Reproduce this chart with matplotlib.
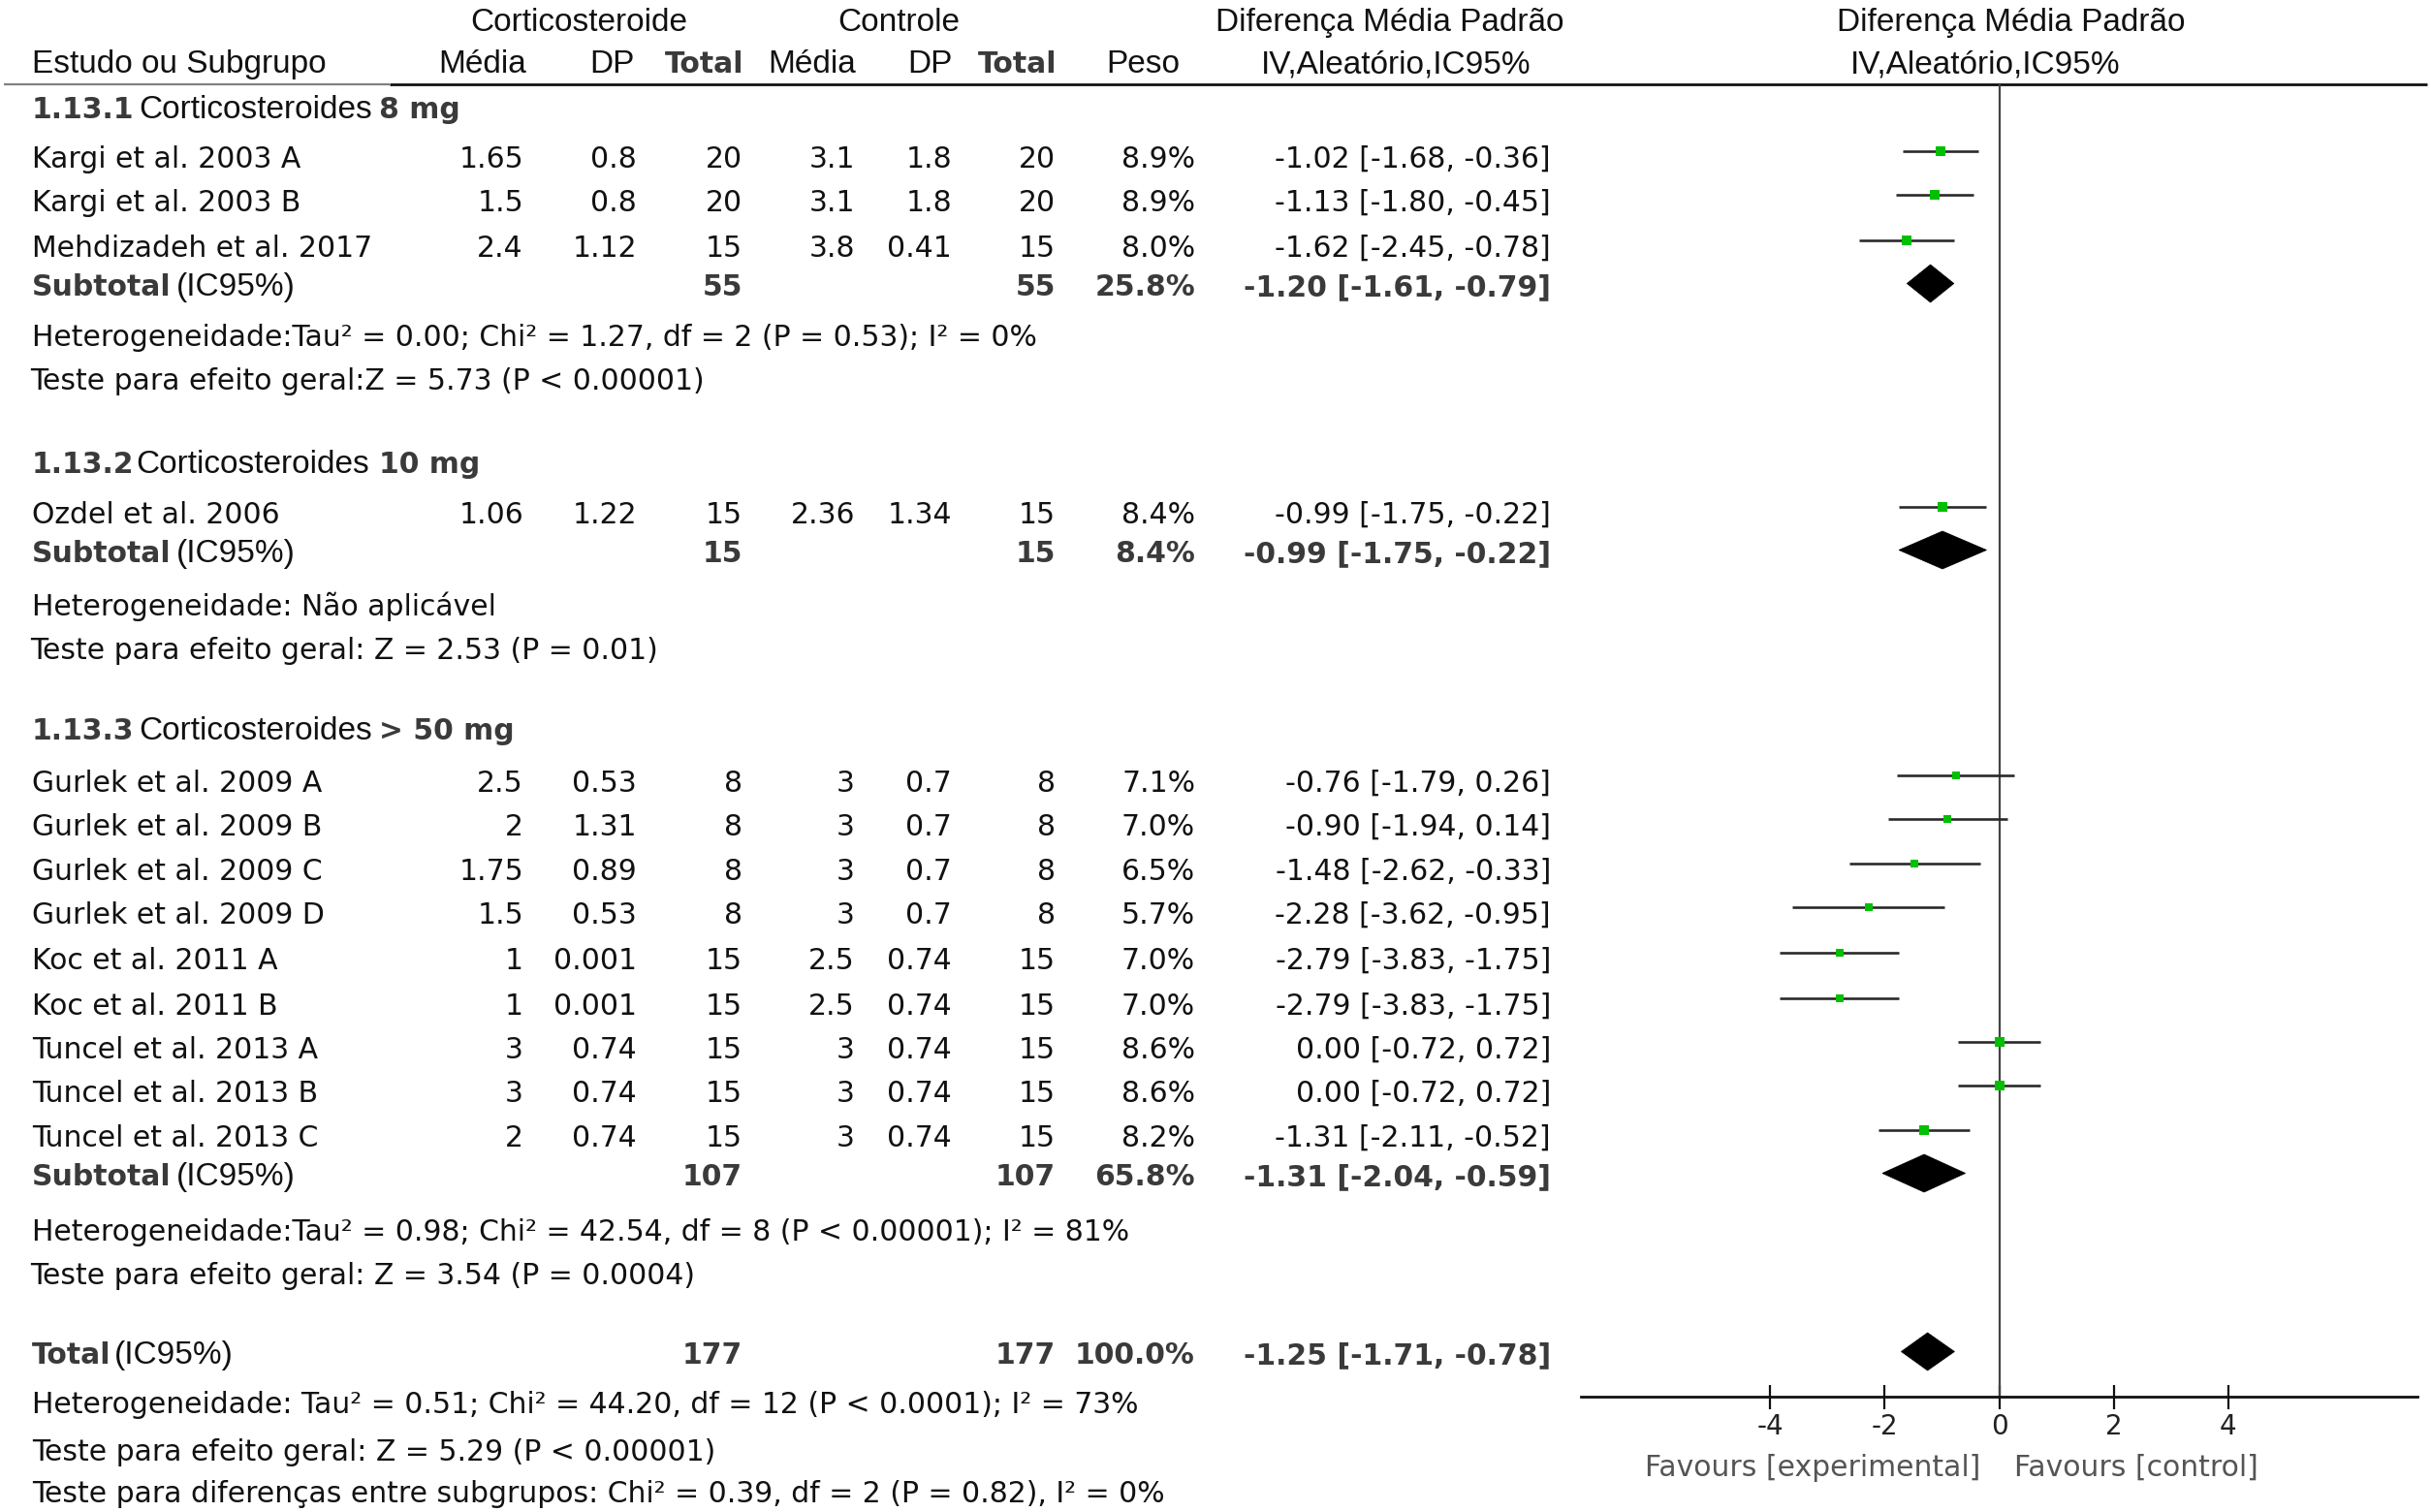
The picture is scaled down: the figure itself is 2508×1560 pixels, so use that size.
import matplotlib
matplotlib.use('Agg')
import matplotlib.pyplot as plt
from matplotlib.patches import Polygon
import numpy as np

plt.rcParams['axes.unicode_minus'] = False

# ---------------- data ----------------
studies = ['Kargi et al. 2003 A', 'Kargi et al. 2003 B', 'Mehdizadeh et al. 2017',
           'Ozdel et al. 2006',
           'Gurlek et al. 2009 A', 'Gurlek et al. 2009 B', 'Gurlek et al. 2009 C',
           'Gurlek et al. 2009 D', 'Koc et al. 2011 A', 'Koc et al. 2011 B',
           'Tuncel et al. 2013 A', 'Tuncel et al. 2013 B', 'Tuncel et al. 2013 C']
e_mean = [1.65, 1.5, 2.4, 1.06, 2.5, 2, 1.75, 1.5, 1, 1, 3, 3, 2]
e_sd = [0.8, 0.8, 1.12, 1.22, 0.53, 1.31, 0.89, 0.53, 0.001, 0.001, 0.74, 0.74, 0.74]
e_n = [20, 20, 15, 15, 8, 8, 8, 8, 15, 15, 15, 15, 15]
c_mean = [3.1, 3.1, 3.8, 2.36, 3, 3, 3, 3, 2.5, 2.5, 3, 3, 3]
c_sd = [1.8, 1.8, 0.41, 1.34, 0.7, 0.7, 0.7, 0.7, 0.74, 0.74, 0.74, 0.74, 0.74]
c_n = [20, 20, 15, 15, 8, 8, 8, 8, 15, 15, 15, 15, 15]
weight = [8.9, 8.9, 8.0, 8.4, 7.1, 7.0, 6.5, 5.7, 7.0, 7.0, 8.6, 8.6, 8.2]
smd = [-1.02, -1.13, -1.62, -0.99, -0.76, -0.90, -1.48, -2.28, -2.79, -2.79, 0.00, 0.00, -1.31]
ci_lo = [-1.68, -1.80, -2.45, -1.75, -1.79, -1.94, -2.62, -3.62, -3.83, -3.83, -0.72, -0.72, -2.11]
ci_hi = [-0.36, -0.45, -0.78, -0.22, 0.26, 0.14, -0.33, -0.95, -1.75, -1.75, 0.72, 0.72, -0.52]

group_code = ['1.13.1', '1.13.2', '1.13.3']
group_mid = [' Corticosteroides ', 'Corticosteroides  ', ' Corticosteroides ']
group_dose = ['8 mg', '10 mg', '> 50 mg']
sub_e_n = [55, 15, 107]
sub_c_n = [55, 15, 107]
sub_weight = [25.8, 8.4, 65.8]
sub_smd = [-1.20, -0.99, -1.31]
sub_lo = [-1.61, -1.75, -2.04]
sub_hi = [-0.79, -0.22, -0.59]
sub_het = ['Heterogeneidade:Tau² = 0.00; Chi² = 1.27, df = 2 (P = 0.53); I² = 0%',
           'Heterogeneidade: Não aplicável',
           'Heterogeneidade:Tau² = 0.98; Chi² = 42.54, df = 8 (P < 0.00001); I² = 81%']
sub_z = ['Teste para efeito geral:Z = 5.73 (P < 0.00001)',
         'Teste para efeito geral: Z = 2.53 (P = 0.01)',
         'Teste para efeito geral: Z = 3.54 (P = 0.0004)']

tot_e_n = 177
tot_c_n = 177
tot_weight = 100.0
tot_smd = -1.25
tot_lo = -1.71
tot_hi = -0.78
tot_het = 'Heterogeneidade: Tau² = 0.51; Chi² = 44.20, df = 12 (P < 0.0001); I² = 73%'
tot_z = 'Teste para efeito geral: Z = 5.29 (P < 0.00001)'
tot_diff = 'Teste para diferenças entre subgrupos: Chi² = 0.39, df = 2 (P = 0.82), I² = 0%'

xticks = [-4, -2, 0, 2, 4]
label_left = 'Favours [experimental]'
label_right = 'Favours [control]'

# ---------------- layout (pixel rows / columns) ----------------
W, H, DPI = 2508, 1560, 100
study_base = [173, 218, 265, 540, 817, 862, 908, 953, 1000, 1047, 1092, 1137, 1183]
group_base = [122, 488, 763]
sub_base = [305, 580, 1223]
het_base = [357, 635, 1280]
z_base = [402, 680, 1325]
total_base, tot_het_base, tot_z_base, tot_diff_base = 1407, 1458, 1507, 1550
col_x = dict(em=540, esd=657, en=766, cm=882, csd=982, cn=1089, w=1233, ci=1600)
LEFT = 33

NORMAL = 'DejaVu Sans'
HEAD = 'Liberation Sans'
FS = 21.5
HFS = 24
TXT = '#111111'
BOLDC = '#3a3a3a'

fig = plt.figure(figsize=(W / DPI, H / DPI), dpi=DPI)
fig.patch.set_facecolor('white')
ax = fig.add_axes([0, 0, 1, 1])
ax.set_xlim(0, W)
ax.set_ylim(H, 0)
ax.axis('off')


def txt(x, y, s, bold=False, family=NORMAL, size=FS, ha='left', color=None):
    return ax.text(x, y, s, fontsize=size, family=family,
                   fontweight='bold' if bold else 'normal',
                   color=color if color else (BOLDC if bold else TXT),
                   ha=ha, va='baseline')


def chain(x, y, parts):
    prev = None
    for s, bold, fam, gap in parts:
        if prev is None:
            prev = txt(x, y, s, bold=bold, family=fam)
        else:
            prev = ax.annotate(s, xy=(1, y), xycoords=(prev, 'data'),
                               xytext=(gap * 0.72, 0), textcoords='offset points',
                               fontsize=FS if fam == NORMAL else HFS, family=fam,
                               fontweight='bold' if bold else 'normal',
                               color=BOLDC if bold else TXT,
                               ha='left', va='baseline')
    return prev


def fmt(v):
    return '{:g}'.format(v)


def ci_str(m, l, h):
    return '{:.2f} [{:.2f}, {:.2f}]'.format(m, l, h)


# ---------------- headers ----------------
txt(597, 32, 'Corticosteroide', family=HEAD, size=HFS, ha='center')
txt(927, 32, 'Controle', family=HEAD, size=HFS, ha='center')
txt(1434, 32, 'Diferença Média Padrão', family=HEAD, size=HFS, ha='center')
txt(2075, 32, 'Diferença Média Padrão', family=HEAD, size=HFS, ha='center')
txt(LEFT, 75, 'Estudo ou Subgrupo', family=HEAD, size=HFS)
txt(543, 75, 'Média', family=HEAD, size=HFS, ha='right')
txt(655, 75, 'DP', family=HEAD, size=HFS, ha='right')
txt(767, 75, 'Total', bold=True, ha='right')
txt(883, 75, 'Média', family=HEAD, size=HFS, ha='right')
txt(983, 75, 'DP', family=HEAD, size=HFS, ha='right')
txt(1090, 75, 'Total', bold=True, ha='right')
txt(1217, 75, 'Peso', family=HEAD, size=HFS, ha='right')
txt(1440, 75, 'IV,Aleatório,IC95%', family=HEAD, size=HFS, ha='center')
txt(2048, 75, 'IV,Aleatório,IC95%', family=HEAD, size=HFS, ha='center')

ax.plot([4, 402], [87, 87], color='#808080', lw=1.6, solid_capstyle='butt')
ax.plot([402, 2504], [87, 87], color='#111111', lw=2.0, solid_capstyle='butt')

# ---------------- table rows ----------------
for g in range(3):
    chain(LEFT, group_base[g], [(group_code[g], True, NORMAL, 0),
                                (group_mid[g].strip(), False, HEAD, 5 if group_mid[g].startswith(' ') else 2),
                                (group_dose[g], True, NORMAL, 10 if group_mid[g].endswith('  ') else 7)])

for i, name in enumerate(studies):
    y = study_base[i]
    txt(LEFT, y, name)
    txt(col_x['em'], y, fmt(e_mean[i]), ha='right')
    txt(col_x['esd'], y, fmt(e_sd[i]), ha='right')
    txt(col_x['en'], y, str(e_n[i]), ha='right')
    txt(col_x['cm'], y, fmt(c_mean[i]), ha='right')
    txt(col_x['csd'], y, fmt(c_sd[i]), ha='right')
    txt(col_x['cn'], y, str(c_n[i]), ha='right')
    txt(col_x['w'], y, '{:.1f}%'.format(weight[i]), ha='right')
    txt(col_x['ci'], y, ci_str(smd[i], ci_lo[i], ci_hi[i]), ha='right')

for g in range(3):
    y = sub_base[g]
    chain(LEFT, y, [('Subtotal', True, NORMAL, 0), ('(IC95%)', False, HEAD, 5)])
    txt(col_x['en'], y, str(sub_e_n[g]), bold=True, ha='right')
    txt(col_x['cn'], y, str(sub_c_n[g]), bold=True, ha='right')
    txt(col_x['w'], y, '{:.1f}%'.format(sub_weight[g]), bold=True, ha='right')
    txt(col_x['ci'], y, ci_str(sub_smd[g], sub_lo[g], sub_hi[g]), bold=True, ha='right')
    txt(LEFT, het_base[g], sub_het[g])
    txt(LEFT - 2, z_base[g], sub_z[g])

y = total_base
chain(LEFT, y, [('Total', True, NORMAL, 0), ('(IC95%)', False, HEAD, 3)])
txt(col_x['en'], y, str(tot_e_n), bold=True, ha='right')
txt(col_x['cn'], y, str(tot_c_n), bold=True, ha='right')
txt(col_x['w'], y, '{:.1f}%'.format(tot_weight), bold=True, ha='right')
txt(col_x['ci'], y, ci_str(tot_smd, tot_lo, tot_hi), bold=True, ha='right')
txt(LEFT, tot_het_base, tot_het)
txt(LEFT, tot_z_base, tot_z)
txt(LEFT, tot_diff_base, tot_diff)

# ---------------- forest plot ----------------
PX_PER_UNIT = 59.1
ZERO_X = 2062.5
XLIM = 7.3
AXIS_Y = 1441
left_px = ZERO_X - XLIM * PX_PER_UNIT
fa = fig.add_axes([left_px / W, 0, 2 * XLIM * PX_PER_UNIT / W, 1])
fa.set_xlim(-XLIM, XLIM)
fa.set_ylim(H, 0)
fa.patch.set_alpha(0)
for s in ['top', 'left', 'right']:
    fa.spines[s].set_visible(False)
fa.spines['bottom'].set_position(('data', AXIS_Y))
fa.spines['bottom'].set_linewidth(2.0)
fa.spines['bottom'].set_color('#111111')
fa.set_yticks([])
fa.set_xticks(xticks)
fa.set_xticklabels([str(t) for t in xticks])
fa.tick_params(axis='x', direction='inout', length=18, width=1.6, color='#111111',
               labelsize=20, labelcolor='#222222', pad=3)
for lab in fa.get_xticklabels():
    lab.set_family(NORMAL)

fa.vlines(0, 87, AXIS_Y, color='#444444', lw=1.6)

marker_y = [b - 17.5 for b in study_base]
fa.hlines(marker_y, ci_lo, ci_hi, color='#2a2a2a', lw=1.9)
for i in range(len(studies)):
    side = 9.6 * np.sqrt(weight[i] / 8.9)
    fa.plot(smd[i], marker_y[i], marker='s', color='#00c000', markeredgewidth=0,
            markersize=side * 0.72, linestyle='none')

HALF = 19.5


def diamond(m, l, h, yc):
    fa.add_patch(Polygon([(l, yc), (m, yc - HALF), (h, yc), (m, yc + HALF)],
                         closed=True, facecolor='black', edgecolor='black', lw=0.5))


for g in range(3):
    diamond(sub_smd[g], sub_lo[g], sub_hi[g], sub_base[g] - 12.5)
diamond(tot_smd, tot_lo, tot_hi, total_base - 12.5)

ax.text(1870, 1523, label_left, fontsize=FS, family=NORMAL, color='#555555',
        ha='center', va='baseline')
ax.text(2204, 1523, label_right, fontsize=FS, family=NORMAL, color='#555555',
        ha='center', va='baseline')

fig.savefig('out.png', dpi=DPI, facecolor='white')
